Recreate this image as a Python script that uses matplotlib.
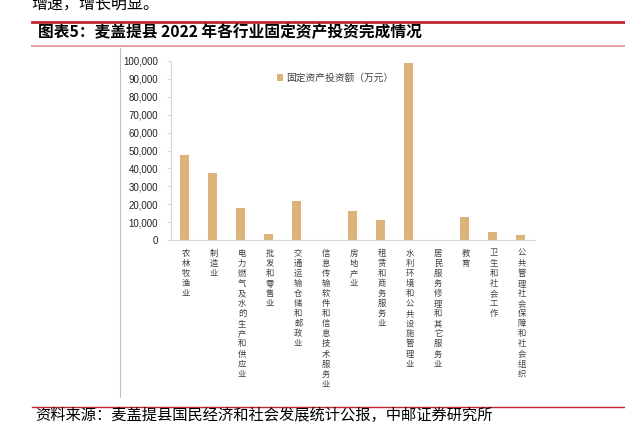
import matplotlib
matplotlib.use("Agg")
import matplotlib.pyplot as plt
from matplotlib.lines import Line2D

plt.rcParams['font.family'] = ['Noto Sans CJK SC', 'DejaVu Sans']

industries = ['农林牧渔业', '制造业', '电力燃气及水的生产和供应业', '批发和零售业',
              '交通运输仓储和邮政业', '信息传输软件和信息技术服务业', '房地产业',
              '租赁和商务服务业', '水利环境和公共设施管理业', '居民服务修理和其它服务业',
              '教育', '卫生和社会工作', '公共管理社会保障和社会组织']
investment = [47300, 37600, 17900, 3400, 21800, 0, 16300,
              11000, 98700, 0, 12700, 4300, 2800]
yticks = list(range(0, 100001, 10000))

bar_color = '#dcb479'
W, H = 625, 424

fig = plt.figure(figsize=(6.25, 4.24), dpi=100)
ax = fig.add_axes([170.7 / W, 1 - 240 / H, 364 / W, 179 / H])

x = list(range(len(industries)))
bars = ax.bar(x, investment, width=0.33, color=bar_color, label='固定资产投资额（万元）')
ax.set_xlim(-0.5, len(industries) - 0.5)
ax.set_ylim(0, 100000)
ax.set_yticks(yticks)
ax.set_yticklabels([f'{v:,}' for v in yticks], fontsize=7, color='#222222',
                   family=['Liberation Sans', 'DejaVu Sans'])
ax.set_xticks(x)
ax.set_xticklabels([''] * len(x))
ax.tick_params(axis='x', length=0)
ax.tick_params(axis='y', length=3, color='#d9d9d9', pad=6)
for s in ['top', 'right']:
    ax.spines[s].set_visible(False)
ax.spines['left'].set_color('#d9d9d9')
ax.spines['bottom'].set_color('#d9d9d9')

# vertical category labels, one upright character per line
for i, name in enumerate(industries):
    for k, ch in enumerate(name):
        ax.annotate(ch, xy=(i, 0), xycoords=('data', 'axes fraction'),
                    xytext=(1, -(9.4 + k * 7.27)), textcoords='offset points',
                    ha='center', va='center', fontsize=6, color='#404040')

ax.legend(handles=[bars], loc='center left', bbox_to_anchor=(272 / W, 1 - 78 / H),
          bbox_transform=fig.transFigure, frameon=False, fontsize=7,
          handlelength=0.6, handleheight=0.6, handletextpad=0.4, borderpad=0,
          labelcolor='#404040')

# report framing
fig.text(31 / W, 1 - 9 / H, '增速，增长明显。', fontsize=11.5, va='baseline', ha='left')
fig.add_artist(Line2D([32 / W, 1], [1 - 22 / H] * 2, color='#c0282d', lw=2))
fig.text(38 / W, 1 - 32 / H, '图表5：麦盖提县 2022 年各行业固定资产投资完成情况',
         fontsize=11.3, weight='bold', va='center', ha='left')
fig.add_artist(Line2D([32 / W, 1], [1 - 46 / H] * 2, color='#e6a3a3', lw=1.5))
fig.add_artist(Line2D([120 / W] * 2, [1 - 48 / H, 1 - 397 / H], color='#bfbfbf', lw=0.8))
fig.add_artist(Line2D([32 / W, 1], [1 - 407 / H] * 2, color='#c0282d', lw=1))
fig.text(35 / W, 1 - 415.5 / H, '资料来源：麦盖提县国民经济和社会发展统计公报，中邮证券研究所',
         fontsize=11, va='center', ha='left')

fig.savefig('out.png', dpi=100)
